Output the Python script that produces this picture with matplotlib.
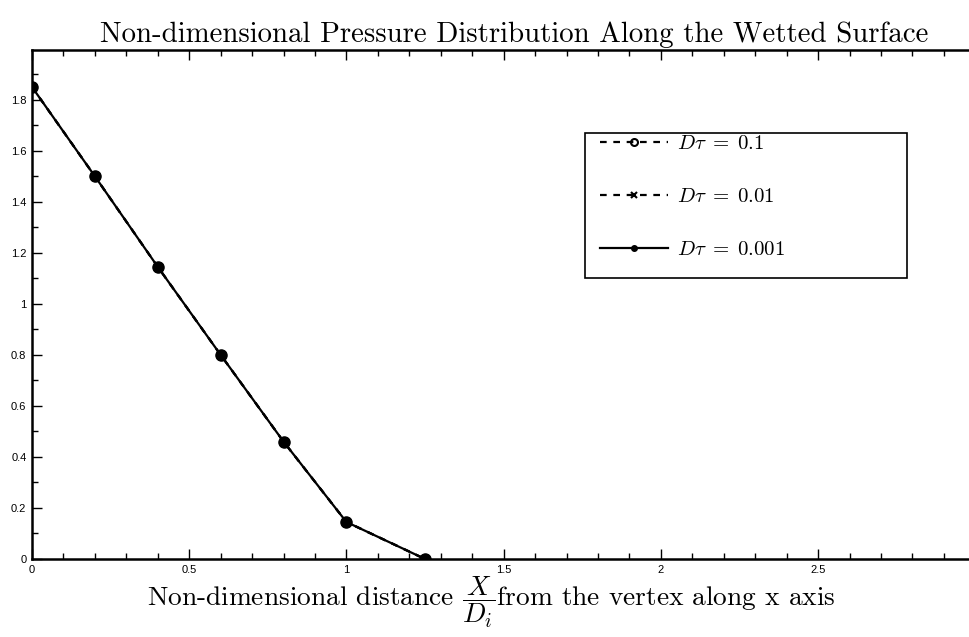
import numpy as np
import matplotlib
matplotlib.use('Agg')
import matplotlib.pyplot as plt
from matplotlib.lines import Line2D
from matplotlib.patches import Rectangle
from matplotlib.ticker import MultipleLocator, FuncFormatter

plt.rcParams['mathtext.fontset'] = 'cm'
plt.rcParams['axes.unicode_minus'] = False

# data
x = [0, 0.2, 0.4, 0.6, 0.8, 1.0, 1.25]
p_01 = [1.85, 1.50, 1.145, 0.80, 0.46, 0.145, 0.0]
p_001 = [1.85, 1.50, 1.145, 0.80, 0.46, 0.145, 0.0]
p_0001 = [1.85, 1.50, 1.145, 0.80, 0.46, 0.145, 0.0]
labels = [r'$D\tau\;=\;0.1$', r'$D\tau\;=\;0.01$', r'$D\tau\;=\;0.001$']

W, H = 969, 637
fig = plt.figure(figsize=(W/100, H/100), dpi=100)
ax = fig.add_axes([32/W, 78/H, 1 - 32/W, 509/H])

ax.plot(x, p_01, 'k--', lw=1.6, marker='o', ms=8, dashes=(3, 3))
ax.plot(x, p_001, 'k--', lw=1.6, marker='x', ms=5, dashes=(3, 3))
ax.plot(x, p_0001, 'k-', lw=1.6, marker='o', ms=7)

ax.set_xlim(0, 2.98)
ax.set_ylim(0, 1.995)
ax.xaxis.set_major_locator(MultipleLocator(0.5))
ax.xaxis.set_minor_locator(MultipleLocator(0.1))
ax.yaxis.set_major_locator(MultipleLocator(0.2))
ax.yaxis.set_minor_locator(MultipleLocator(0.1))

def fmt(v, pos):
    return '%g' % round(v, 3)
ax.xaxis.set_major_formatter(FuncFormatter(fmt))
ax.yaxis.set_major_formatter(FuncFormatter(fmt))

ax.tick_params(which='both', direction='in', top=True, right=False, labelsize=8,
               pad=4, width=1.0, labelfontfamily='Liberation Sans')
ax.tick_params(which='major', length=7)
ax.tick_params(which='minor', length=4)
ax.spines['right'].set_visible(False)
for s in ['left', 'bottom', 'top']:
    ax.spines[s].set_linewidth(1.8)

ax.set_title('Non-dimensional Pressure Distribution Along the Wetted Surface',
             family='cmr10', fontsize=20.8, pad=6, x=(514 - 32)/937)
ax.set_xlabel(r'Non-dimensional distance $\dfrac{X}{D_i}$from the vertex along x axis',
              family='cmr10', fontsize=19.7, labelpad=0)
ax.xaxis.label.set_x((491 - 32)/937)

# legend frame (drawn separately, the original box has extra room on the right)
ax.add_patch(Rectangle((585/W, 1 - 278/H), 322/W, 145/H, transform=fig.transFigure,
                       facecolor='white', edgecolor='k', lw=1.2, zorder=4,
                       clip_on=False))

handles = [Line2D([], [], color='k', ls='--', lw=1.6, marker='o', ms=5,
                  mfc='none', mew=1.5, dashes=(3, 3)),
           Line2D([], [], color='k', ls='--', lw=1.6, marker='x', ms=5, mew=1.5,
                  dashes=(3, 3)),
           Line2D([], [], color='k', ls='-', lw=1.6, marker='o', ms=4)]
leg = ax.legend(handles, labels, loc='upper left',
                bbox_to_anchor=(600/W, 1 - 133/H), bbox_transform=fig.transFigure,
                fontsize=15, handlelength=3.27, labelspacing=1.58, borderpad=0,
                handletextpad=0.43, frameon=False, borderaxespad=0)
leg.set_zorder(6)

fig.savefig('out.png', dpi=100)
